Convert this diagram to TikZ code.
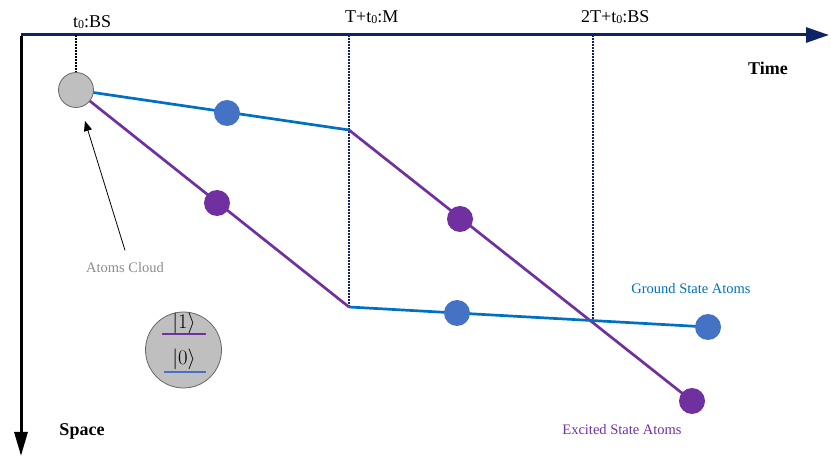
\documentclass[tikz,border=0pt]{standalone}
\usepackage{fontspec}
\setmainfont{Liberation Serif}
\usetikzlibrary{arrows.meta}
\definecolor{navy}{HTML}{0E2464}
\definecolor{lblue}{HTML}{0070C0}
\definecolor{dblue}{HTML}{4472C4}
\definecolor{purp}{HTML}{7030A0}
\definecolor{cloudgray}{HTML}{BFBFBF}
\newcommand{\tzero}{t\raisebox{-0.8pt}{\fontsize{12}{12}\selectfont 0}}
\tikzset{
  bluedot/.style={circle,fill=dblue,minimum size=26pt,inner sep=0pt},
  purpdot/.style={circle,fill=purp,minimum size=26pt,inner sep=0pt},
  bpath/.style={lblue,line width=2.7pt},
  ppath/.style={purp,line width=2.7pt},
  guide/.style={navy,line width=1.2pt,dash pattern=on 1.6pt off 1.4pt},
  lbl/.style={font=\fontsize{18}{20}\selectfont,inner sep=0pt},
}
\begin{document}
\begin{tikzpicture}[x=1pt,y=-1pt]
\useasboundingbox (0,0) rectangle (831,462);
% coordinates
\coordinate (o) at (21,35);
\coordinate (tend) at (829,35);
\coordinate (send) at (21,456);
\coordinate (cc) at (76,90);
\coordinate (up) at (349,130);
\coordinate (low) at (349,307);
\coordinate (x) at (593,320.5);
\coordinate (g1) at (76,35);
\coordinate (g2) at (349,35);
\coordinate (g3) at (593,35);
% axes
\draw[navy,line width=3pt,-{Triangle[length=23pt,width=15pt]}] (o) -- (tend);
\draw[black,line width=3pt,-{Triangle[length=24pt,width=13pt]}] ([yshift=-1.5pt]o) -- (send);
% guides
\draw[black,line width=1.3pt,dash pattern=on 1.6pt off 1.4pt] (g1) -- (76,73);
\draw[guide] (g2) -- (low);
\draw[guide] (g3) -- (x);
% paths
\draw[bpath] (cc) -- (up);
\draw[ppath] (cc) -- (low);
\draw[ppath] (up) -- (692,401);
\draw[bpath] (low) -- (708,327);
% nodes
\node[circle,fill=cloudgray,draw=black!60,line width=0.8pt,minimum size=35pt,inner sep=0pt] (cloud) at (cc) {};
\node[bluedot] (b1) at (227,113) {};
\node[bluedot] (b2) at (457,313) {};
\node[bluedot] (b3) at (708,327) {};
\node[purpdot] (p1) at (217,203) {};
\node[purpdot] (p2) at (460,219) {};
\node[purpdot] (p3) at (692,401) {};
% labels
\node[lbl,anchor=base west] (l1) at (73,28) {\tzero:BS};
\node[lbl,anchor=base west] (l2) at (345,23) {T+\tzero:M};
\node[lbl,anchor=base west] (l3) at (581,23) {2T+\tzero:BS};
\node[font=\bfseries\fontsize{18}{20}\selectfont] (time) at (768,68) {Time};
\node[font=\bfseries\fontsize{18}{20}\selectfont] (space) at (82,431) {Space};
\node[font=\fontsize{14.5}{17}\selectfont,text=black!45] (ac) at (125,268) {Atoms Cloud};
\draw[black,line width=0.8pt,-{Triangle[length=10pt,width=8pt]}] (ac.north) ++(0,-9) -- (85,121);
\node[font=\fontsize{14.5}{17}\selectfont,text=lblue] (gs) at (691,289) {Ground State Atoms};
\node[font=\fontsize{14.5}{17}\selectfont,text=purp] (es) at (622,430) {Excited State Atoms};
% legend
\node[circle,fill=cloudgray,draw=black!60,line width=0.8pt,minimum size=76pt,inner sep=0pt] (leg) at (183.5,350) {};
\draw[purp,line width=2.6pt] (162,334) -- (206,334);
\draw[dblue,line width=2.6pt] (164,372) -- (206,372);
\node[font=\fontsize{20}{22}\selectfont] (k1) at (184,323) {$|1\rangle$};
\node[font=\fontsize{20}{22}\selectfont] (k0) at (184,359) {$|0\rangle$};
\end{tikzpicture}
\end{document}
